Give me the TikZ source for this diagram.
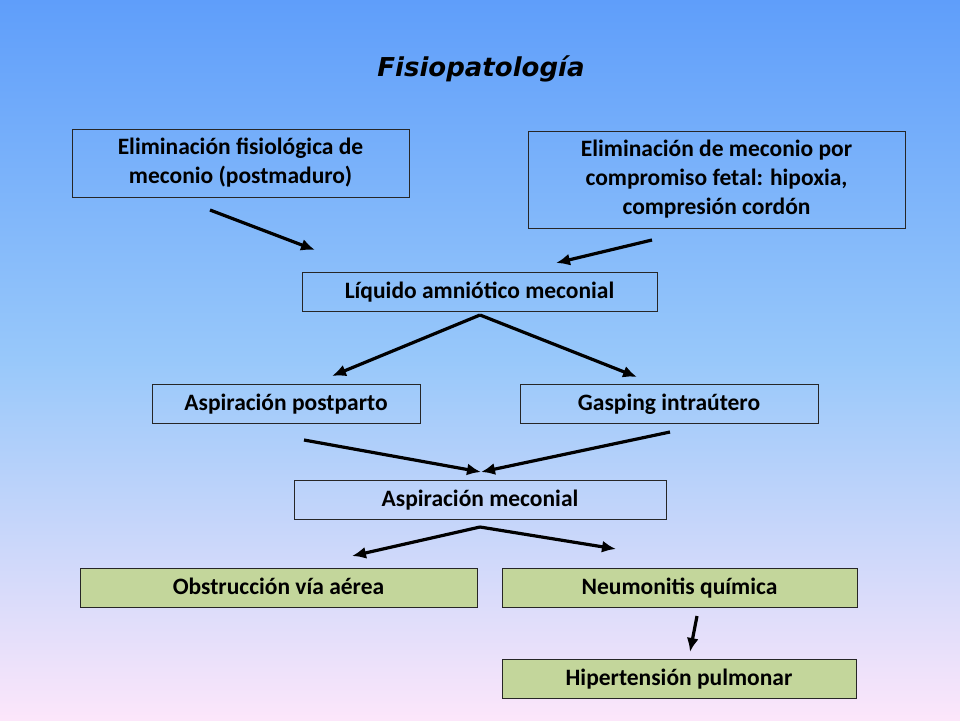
\documentclass[tikz,border=0pt]{standalone}
\usepackage{fontspec}
\setmainfont{Carlito}
\newfontfamily\titlefont{DejaVu Sans}
\usetikzlibrary{arrows.meta}
\definecolor{bgtop}{RGB}{95,158,250}
\definecolor{bgmid}{RGB}{152,200,250}
\definecolor{bgbot}{RGB}{252,230,250}
\definecolor{boxgreen}{RGB}{195,214,155}
\begin{document}
\begin{tikzpicture}[x=1pt,y=-1pt,
  box/.style={draw=black!85,line width=0.8pt,align=center,inner sep=0pt,
    font=\fontsize{23.5}{29}\selectfont\bfseries},
  oneline/.style={text height=17.5pt,text depth=3.5pt},
  greenbox/.style={box,oneline,fill=boxgreen},
  arr/.style={-{Latex[length=14pt,width=12pt]},line width=3.2pt}]
  \shade[top color=bgtop,bottom color=bgmid] (0,0) rectangle (960,360);
  \shade[top color=bgmid,bottom color=bgbot] (0,360) rectangle (960,720);
  \useasboundingbox (0,0) rectangle (960,720);

  \node (title) at (481,69) {\titlefont\bfseries\itshape\fontsize{26}{30}\selectfont Fisiopatología};

  % causes
  \node[box,minimum width=337,minimum height=68] (elimfis) at (240.5,163)
    {Eliminación fisiológica de\\meconio (postmaduro)};
  \node[box,minimum width=377,minimum height=97] (elimfet) at (716.5,179.5)
    {Eliminación de meconio por\\compromiso fetal: hipoxia,\\compresión cordón};
  \node[box,oneline,minimum width=355,minimum height=39] (liquido) at (479.5,291.5)
    {Líquido amniótico meconial};
  \node[box,oneline,minimum width=268,minimum height=39] (asppost) at (286,403.5)
    {Aspiración postparto};
  \node[box,oneline,minimum width=298,minimum height=39] (gasping) at (669,403.5)
    {Gasping intraútero};
  \node[box,oneline,minimum width=372,minimum height=39] (aspmec) at (480,499.5)
    {Aspiración meconial};

  % consequences
  \node[greenbox,minimum width=397,minimum height=39] (obstr) at (278.5,587.5)
    {Obstrucción vía aérea};
  \node[greenbox,minimum width=355,minimum height=39] (neumo) at (679.5,587.5)
    {Neumonitis química};
  \node[greenbox,minimum width=354,minimum height=39] (hiper) at (679,678.5)
    {Hipertensión pulmonar};

  % arrow ends
  \coordinate (fis-s) at (210,210);   \coordinate (fis-e) at (315,250);
  \coordinate (fet-s) at (652,240);   \coordinate (fet-e) at (556,263);
  \coordinate (liq-s) at (480,315);
  \coordinate (liq-l) at (332,376);   \coordinate (liq-r) at (637,377);
  \coordinate (post-s) at (304,440);  \coordinate (gasp-s) at (670,432);
  \coordinate (mec-e) at (481,472);
  \coordinate (mec-s) at (480,527);
  \coordinate (mec-l) at (352,556);   \coordinate (mec-r) at (616,549);
  \coordinate (neu-s) at (697,616);   \coordinate (neu-e) at (690,652);

  \draw[arr] (fis-s) -- (fis-e);
  \draw[arr] (fet-s) -- (fet-e);
  \draw[arr] (liq-s) -- (liq-l);
  \draw[arr] (liq-s) -- (liq-r);
  \draw[arr] (post-s) -- (mec-e);
  \draw[arr] (gasp-s) -- (mec-e);
  \draw[arr] (mec-s) -- (mec-l);
  \draw[arr] (mec-s) -- (mec-r);
  \draw[arr] (neu-s) -- (neu-e);
\end{tikzpicture}
\end{document}
